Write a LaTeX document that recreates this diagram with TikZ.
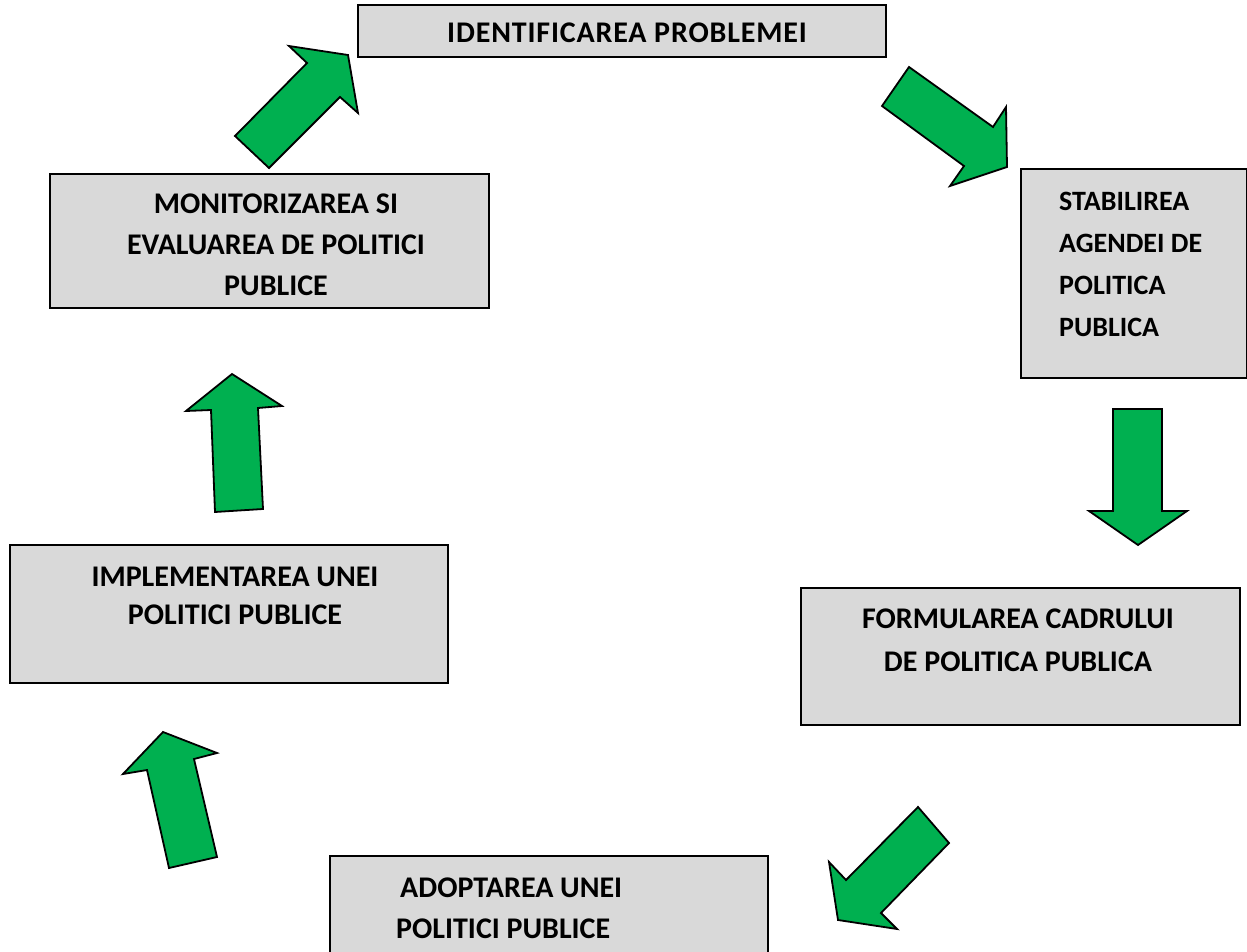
\documentclass[tikz,border=0pt]{standalone}
\usepackage{fontspec}
\setmainfont{Carlito}
\definecolor{boxgray}{HTML}{D9D9D9}
\definecolor{arrgreen}{HTML}{00B050}
\tikzset{
  box/.style={draw=black, line width=1.3pt, fill=boxgray, inner sep=0pt},
  lbl/.style={font=\fontsize{30}{41}\selectfont\bfseries, inner sep=0pt},
  blockarrow/.style={draw=black, line width=1.8pt, fill=arrgreen, line join=miter},
}
\begin{document}
\begin{tikzpicture}[x=1pt,y=-1pt]
\useasboundingbox (0,0) rectangle (1247,952);
% boxes
\node[box, minimum width=528pt, minimum height=52pt] (b1) at (622,31) {};
\node[box, minimum width=226pt, minimum height=209pt] (b2) at (1134,273.5) {};
\node[box, minimum width=439pt, minimum height=137pt] (b3) at (1020.5,656.5) {};
\node[box, minimum width=438pt, minimum height=110pt] (b4) at (549,911) {};
\node[box, minimum width=438pt, minimum height=138pt] (b5) at (229,614) {};
\node[box, minimum width=439pt, minimum height=134pt] (b6) at (269.5,241) {};
% texts
\node[lbl, font=\fontsize{30}{41}\selectfont\bfseries\addfontfeature{LetterSpace=2.8}] (t1) at (627,33) {IDENTIFICAREA PROBLEMEI};
\node[lbl, align=left, anchor=west, font=\fontsize{28}{42}\selectfont\bfseries] (t2) at (1059,264) {STABILIREA\\AGENDEI DE\\POLITICA\\PUBLICA};
\node[lbl, align=center, font=\fontsize{30}{43}\selectfont\bfseries] (t3) at (1018,640) {FORMULAREA CADRULUI\\DE POLITICA PUBLICA};
\node[lbl, align=left, anchor=west] (t4) at (396,908) {\hspace*{4pt}ADOPTAREA UNEI\\POLITICI PUBLICE};
\node[lbl, align=center, font=\fontsize{30}{38}\selectfont\bfseries] (t5) at (235,596) {IMPLEMENTAREA UNEI\\POLITICI PUBLICE};
\node[lbl, align=center] (t6) at (276,245) {MONITORIZAREA SI\\EVALUAREA DE POLITICI\\PUBLICE};
% block arrows
\draw[blockarrow] (235,136) -- (269,168) -- (340,97) -- (358,113) -- (348,55) -- (289,46) -- (307,63) -- cycle;
\draw[blockarrow] (909,67) -- (882,106) -- (964,166) -- (950,186) -- (1007,167) -- (1006,107) -- (993,127) -- cycle;
\draw[blockarrow] (1113,409) -- (1162,409) -- (1162,511) -- (1187,511) -- (1138,545) -- (1089,511) -- (1113,511) -- cycle;
\draw[blockarrow] (918,807) -- (949,843) -- (881,913) -- (897,929) -- (838,920) -- (829,862) -- (846,880) -- cycle;
\draw[blockarrow] (169,868) -- (217,857) -- (194,759) -- (217,753) -- (163,732) -- (123,774) -- (147,770) -- cycle;
\draw[blockarrow] (215,512) -- (263,509) -- (258,408) -- (282,406) -- (232,374) -- (186,411) -- (211,410) -- cycle;
\end{tikzpicture}
\end{document}
